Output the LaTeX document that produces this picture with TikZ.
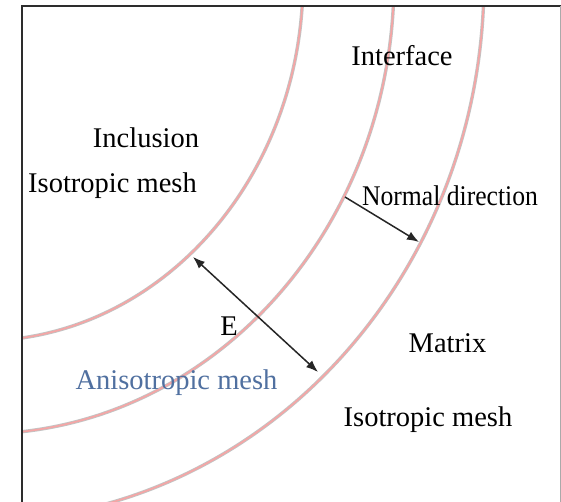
\documentclass[tikz,border=0pt]{standalone}
\usepackage{fontspec}
\setmainfont{Liberation Serif}
\usetikzlibrary{arrows.meta}
\definecolor{curvepink}{RGB}{245,165,165}
\definecolor{curvegray}{RGB}{195,195,195}
\definecolor{anisoblue}{RGB}{80,112,160}
\definecolor{framedark}{RGB}{45,45,45}
\definecolor{frameright}{RGB}{170,170,170}
\begin{document}
\begin{tikzpicture}[x=1pt,y=-1pt,
  lbl/.style={inner sep=0pt, anchor=base, font=\fontsize{28.5}{30}\selectfont},
  arrowline/.style={draw=black!85, line width=1.5pt, >={Latex[length=12pt,width=9pt]}},
  curveouter/.style={curvegray, line width=3.4pt},
  curveinner/.style={curvepink, line width=1.7pt}]
\useasboundingbox (0,0) rectangle (561,502);
\fill[white] (0,0) rectangle (561,502);
% interfaces (clipped ellipse quarters)
\begin{scope}
  \clip (22,6) rectangle (561,502);
  \foreach \a/\b in {323/361, 414/454, 504/541} {
    \draw[curveouter] (-20,-20) ellipse [x radius=\a, y radius=\b];
    \draw[curveinner] (-20,-20) ellipse [x radius=\a, y radius=\b];
  }
\end{scope}
% frame
\draw[framedark, line width=2pt] (22,502) -- (22,6) -- (561,6);
\draw[frameright, line width=1pt] (560,6) -- (560,502);
% labels
\node[lbl] (interface) at (402,66) {Interface};
\node[lbl] (inclusion) at (146,148) {Inclusion};
\node[lbl] (isoleft) at (112.5,193) {Isotropic mesh};
\node[lbl] (normal) at (450,206) {\scalebox{0.9}[1]{Normal direction}};
\node[lbl] (elabel) at (229,335) {E};
\node[lbl] (matrix) at (447.5,352) {Matrix};
\node[lbl, text=anisoblue] (aniso) at (176.5,389) {Anisotropic mesh};
\node[lbl] (isoright) at (428,426) {Isotropic mesh};
% arrows
\coordinate (n1) at (345,197);
\coordinate (n2) at (419,242);
\coordinate (e1) at (193,257);
\coordinate (e2) at (318,372);
\draw[arrowline, ->] (n1) -- (n2);
\draw[arrowline, <->] (e1) -- (e2);
\end{tikzpicture}
\end{document}
